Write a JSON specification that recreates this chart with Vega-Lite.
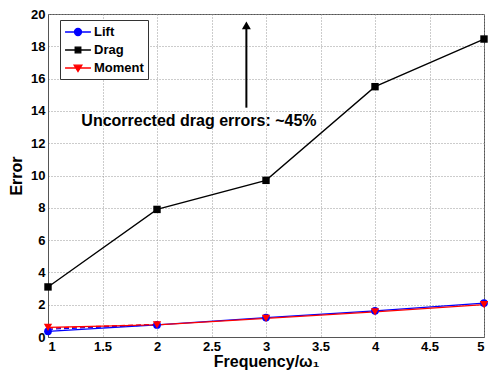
{
  "$schema": "https://vega.github.io/schema/vega-lite/v6.json",
  "width": 436,
  "height": 323,
  "autosize": {"type": "none"},
  "padding": {"left": 48, "top": 14, "right": 4, "bottom": 42},
  "background": "white",
  "config": {
    "font": "Liberation Sans",
    "view": {"stroke": "#555555", "strokeWidth": 1},
    "axis": {
      "labelFont": "Liberation Sans", "labelFontWeight": "bold", "labelFontSize": 13, "labelColor": "black", "labelOverlap": false,
      "titleFont": "Liberation Sans", "titleFontWeight": "bold", "titleFontSize": 16, "titleColor": "black",
      "domainColor": "#555555", "ticks": false,
      "gridColor": "#999999", "gridDash": [1, 2], "gridOpacity": 1, "gridWidth": 1
    }
  },
  "datasets": {
    "series": [
      {"series": "Lift", "x": 1, "y": 0.35},
      {"series": "Lift", "x": 2, "y": 0.75},
      {"series": "Lift", "x": 3, "y": 1.2},
      {"series": "Lift", "x": 4, "y": 1.62},
      {"series": "Lift", "x": 5, "y": 2.1},
      {"series": "Drag", "x": 1, "y": 3.1},
      {"series": "Drag", "x": 2, "y": 7.9},
      {"series": "Drag", "x": 3, "y": 9.7},
      {"series": "Drag", "x": 4, "y": 15.5},
      {"series": "Drag", "x": 5, "y": 18.45},
      {"series": "Moment", "x": 1, "y": 0.6},
      {"series": "Moment", "x": 2, "y": 0.75},
      {"series": "Moment", "x": 3, "y": 1.15},
      {"series": "Moment", "x": 4, "y": 1.55},
      {"series": "Moment", "x": 5, "y": 2.0}
    ],
    "dashed": [
      {"series": "Lift", "x": 1, "y": 0.48},
      {"series": "Lift", "x": 2, "y": 0.76},
      {"series": "Moment", "x": 1, "y": 0.55},
      {"series": "Moment", "x": 2, "y": 0.78}
    ],
    "arrow": [
      {"x": 2.82, "y": 14.2, "y2": 19.3}
    ],
    "arrowhead": [
      {"x": 2.82, "y": 19.3}
    ],
    "note": [
      {"x": 2.385, "y": 13.4, "label": "Uncorrected drag errors: ~45%"}
    ]
  },
  "encoding": {
    "x": {"field": "x", "type": "quantitative", "scale": {"domain": [1, 5], "nice": false, "zero": false},
          "axis": {"values": [1, 1.5, 2, 2.5, 3, 3.5, 4, 4.5, 5], "format": "~g", "title": "Frequency/ω₁", "titlePadding": 0, "labelPadding": 3}},
    "y": {"field": "y", "type": "quantitative", "scale": {"domain": [0, 20], "nice": false},
          "axis": {"values": [0, 2, 4, 6, 8, 10, 12, 14, 16, 18, 20], "title": "Error", "titlePadding": 6, "labelPadding": 3}}
  },
  "layer": [
    {
      "data": {"name": "series"},
      "mark": {"type": "line", "strokeWidth": 1.3},
      "encoding": {
        "color": {
          "field": "series", "type": "nominal",
          "scale": {"domain": ["Lift", "Drag", "Moment"], "range": ["#0000ff", "#000000", "#ff0000"]},
          "legend": {
            "title": null, "orient": "none", "legendX": 12, "legendY": 6,
            "strokeColor": "#333333", "fillColor": "white", "padding": 4,
            "labelFont": "Liberation Sans", "labelFontWeight": "bold", "labelFontSize": 13, "labelColor": "black",
            "symbolSize": 196, "symbolStrokeWidth": 1.3, "rowPadding": 3, "symbolOffset": 6, "labelOffset": 8,
            "encode": {
              "symbols": {
                "update": {
                  "shape": {"signal": "datum.value === 'Lift' ? 'M-1.85,0H1.85M0.5,0A0.5,0.5 0 1,1 -0.5,0A0.5,0.5 0 1,1 0.5,0Z' : datum.value === 'Drag' ? 'M-1.85,0H1.85M-0.4,-0.4H0.4V0.4H-0.4Z' : 'M-1.85,0H1.85M-0.55,-0.4H0.55L0,0.5Z'"},
                  "fill": {"signal": "datum.value === 'Lift' ? '#0000ff' : datum.value === 'Drag' ? '#000000' : '#ff0000'"},
                  "fillOpacity": {"value": 1}
                }
              }
            }
          }
        }
      }
    },
    {
      "data": {"name": "dashed"},
      "mark": {"type": "line", "strokeWidth": 1.3, "strokeDash": [5, 3]},
      "encoding": {
        "detail": {"field": "series", "type": "nominal"},
        "color": {"field": "series", "type": "nominal", "legend": null}
      }
    },
    {
      "data": {"name": "series"},
      "transform": [{"filter": "datum.series === 'Lift'"}],
      "mark": {"type": "point", "shape": "circle", "filled": true, "opacity": 1, "size": 60, "color": "#0000ff"}
    },
    {
      "data": {"name": "series"},
      "transform": [{"filter": "datum.series === 'Drag'"}],
      "mark": {"type": "point", "shape": "square", "filled": true, "opacity": 1, "size": 55, "color": "#000000"}
    },
    {
      "data": {"name": "series"},
      "transform": [{"filter": "datum.series === 'Moment'"}],
      "mark": {"type": "point", "shape": "triangle-down", "filled": true, "opacity": 1, "size": 70, "color": "#ff0000"}
    },
    {
      "data": {"name": "arrow"},
      "mark": {"type": "rule", "strokeWidth": 2, "color": "black"},
      "encoding": {
        "y2": {"field": "y2"}
      }
    },
    {
      "data": {"name": "arrowhead"},
      "mark": {"type": "point", "shape": "triangle-up", "filled": true, "color": "black", "opacity": 1, "size": 80}
    },
    {
      "data": {"name": "note"},
      "mark": {"type": "text", "font": "Liberation Sans", "fontWeight": "bold", "fontSize": 16, "color": "black", "align": "center", "baseline": "middle"},
      "encoding": {
        "text": {"field": "label"}
      }
    }
  ]
}
